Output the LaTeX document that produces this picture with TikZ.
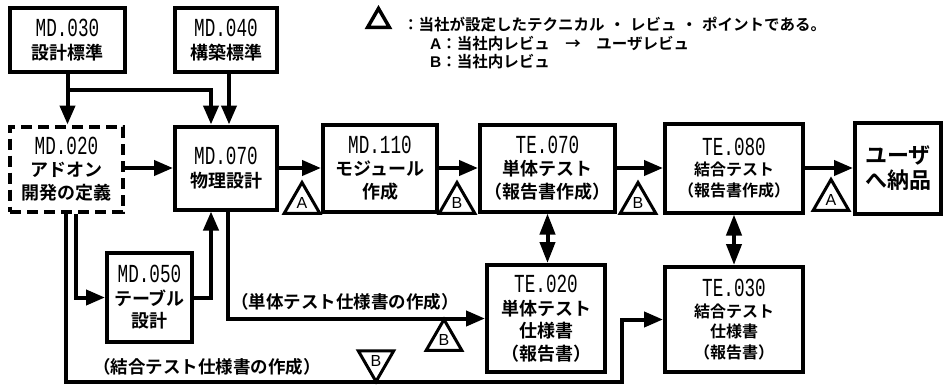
\documentclass[tikz,border=0pt]{standalone}
\usepackage{fontspec}
\usetikzlibrary{arrows.meta,shapes.geometric,calc}
\newfontfamily\jp{Noto Sans CJK JP}[BoldFont={Noto Sans CJK JP Bold}]
\newfontfamily\idf{Liberation Mono}[FakeStretch=0.68]
\newfontfamily\lat{Liberation Sans}
\newcommand{\ID}[1]{{\idf\mdseries\fontsize{26}{22}\selectfont #1}}
\newcommand{\sdot}{\hspace{5pt}・\hspace{5pt}}
\begin{document}
\begin{tikzpicture}[x=1pt,y=-1pt,
  box/.style={draw,line width=4pt,rectangle,inner sep=0pt,align=center,
    font=\jp\bfseries\fontsize{18}{22.5}\selectfont},
  sbox/.style={box,font=\jp\bfseries\fontsize{16}{20.5}\selectfont},
  dbox/.style={box,dash pattern=on 11pt off 6pt},
  ubox/.style={box,font=\jp\bfseries\fontsize{22}{25}\selectfont},
  arr/.style={line width=4pt,-{Triangle[length=19pt,width=15pt]}},
  darr/.style={line width=4pt,{Triangle[length=21pt,width=15pt]}-{Triangle[length=21pt,width=15pt]}},
  tri/.style={draw,line width=3pt,regular polygon,regular polygon sides=3,minimum size=41pt,inner sep=0pt,
    font=\lat\fontsize{16}{16}\selectfont},
  dtri/.style={tri,regular polygon rotate=180},
  lbl/.style={inner sep=0pt,font=\jp\bfseries\fontsize{17.5}{17.5}\selectfont},
  leg/.style={inner sep=0pt,anchor=west,font=\jp\bfseries\fontsize{15.5}{15.5}\selectfont}]
\useasboundingbox[fill=white] (0,0) rectangle (944,386);

% boxes
\node[box,minimum width=115pt,minimum height=64pt] (md030) at (67.5,40) {\ID{MD.030}\\設計標準};
\node[box,minimum width=102pt,minimum height=64pt] (md040) at (226,40) {\ID{MD.040}\\構築標準};
\node[dbox,minimum width=113pt,minimum height=85pt] (md020) at (66.5,169) {\ID{MD.020}\\アドオン\\開発の定義};
\node[box,minimum width=102pt,minimum height=83pt] (md070) at (226,168) {\ID{MD.070}\\物理設計};
\node[box,minimum width=114pt,minimum height=87pt] (md110) at (380,168) {\ID{MD.110}\\モジュール\\作成};
\node[box,minimum width=135pt,minimum height=87pt] (te070) at (547.5,168) {\ID{TE.070}\\単体テスト\\（報告書作成）};
\node[sbox,minimum width=138pt,minimum height=89pt] (te080) at (734,168) {\ID{TE.080}\\結合テスト\\（報告書作成）};
\node[ubox,minimum width=86pt,minimum height=91pt] (user) at (898,168) {ユーザ\\へ納品};
\node[box,minimum width=85pt,minimum height=89pt] (md050) at (149.5,297.5) {\ID{MD.050}\\テーブル\\設計};
\node[box,minimum width=118pt,minimum height=107pt] (te020) at (546,318.5) {\ID{TE.020}\\単体テスト\\仕様書\\（報告書）};
\node[sbox,minimum width=138pt,minimum height=105pt] (te030) at (734,319.5) {\ID{TE.030}\\結合テスト\\仕様書\\（報告書）};

% top connectors
\coordinate (b1) at (67.5,90);
\draw[arr] (md030.south) -- (md030.south |- md020.north);
\draw[arr] (b1) -| ([xshift=-15pt]md070.north);
\draw[arr] ([xshift=3pt]md040.south) -- ([xshift=3pt]md070.north);

% main row
\draw[arr] (md020.east |- md070.west) -- (md070.west);
\draw[arr] (md070.east) -- (md110.west);
\draw[arr] (md110.east) -- (te070.west);
\draw[arr] (te070.east) -- (te080.west);
\draw[arr] (te080.east) -- (user.west);

% lower connectors
\draw[arr] ([xshift=9.5pt]md020.south) |- (md050.west);
\draw[arr] (md050.east) -| ([xshift=-15pt]md070.south);
\draw[arr] ([xshift=2pt]md070.south) |- (te020.west);
\coordinate (c1) at (622,382);
\draw[arr] ([xshift=-0.5pt]md020.south) |- (c1) |- (te030.west);
\draw[darr] (te070.south) -- (te020.north -| te070.south);
\draw[darr] (te080.south) -- (te030.north -| te080.south);

% review triangles
\node[tri] (tA1) at (302,203) {A};
\node[tri] (tB1) at (457,203) {B};
\node[tri] (tB2) at (638,203) {B};
\node[tri] (tA2) at (831,200) {A};
\node[tri] (tB3) at (444,340) {B};
\node[dtri] (tB4) at (376,361) {B};

% labels
\node[lbl] (l1) at (345,302) {（単体テスト仕様書の作成）};
\node[lbl] (l2) at (207,367) {（結合テスト仕様書の作成）};

% legend
\node[draw,line width=3.5pt,regular polygon,regular polygon sides=3,minimum size=25pt,inner sep=0pt] (legtri) at (378.5,21) {};
\node[leg] (leg1) at (403,25) {：当社が設定したテクニカル\sdot レビュ\sdot ポイントである。};
\node[leg] (leg2) at (430,44) {{\lat A}：当社内レビュ　→　ユーザレビュ};
\node[leg] (leg3) at (430,62) {{\lat B}：当社内レビュ};
\end{tikzpicture}
\end{document}
